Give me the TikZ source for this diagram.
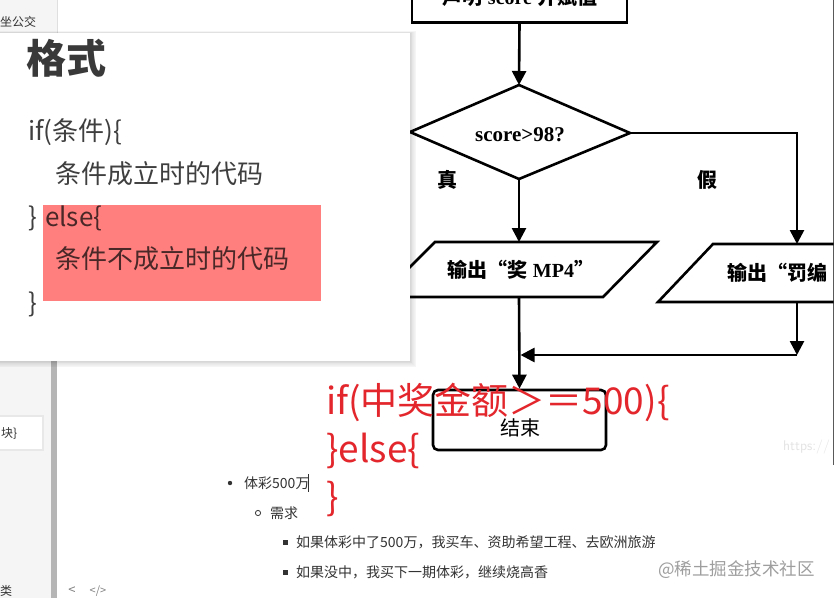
\documentclass[tikz,border=0pt]{standalone}
\usepackage{fontspec}
\setmainfont{Liberation Serif}
\newfontfamily\cjk{Noto Sans CJK SC}
\usetikzlibrary{arrows.meta}
\definecolor{sidebg}{HTML}{F5F5F5}
\definecolor{sidebarc}{HTML}{B5B5B5}
\definecolor{cardtxt}{HTML}{3F3F3F}
\definecolor{hl}{HTML}{FF7F7F}
\definecolor{hltxt}{HTML}{4A2828}
\definecolor{redtxt}{HTML}{E3262C}
\definecolor{doctxt}{HTML}{333333}
\definecolor{wm}{HTML}{9E9E9E}
\tikzset{
  fl/.style={line width=2.6pt, line join=miter},
  arr/.style={fl, -{Triangle[width=14pt,length=14pt]}},
  ftxt/.style={inner sep=0, font=\bfseries\fontsize{20}{24}\selectfont},
  cardline/.style={anchor=west, inner sep=0, text=cardtxt, font=\cjk\fontsize{26}{30}\selectfont},
  redline/.style={anchor=west, inner sep=0, text=redtxt, font=\cjk\fontsize{37}{40}\selectfont},
  docline/.style={anchor=west, inner sep=0, text=doctxt, font=\cjk\fontsize{14}{16}\selectfont}
}
\begin{document}
\begin{tikzpicture}[x=1pt,y=-1pt]
\useasboundingbox (0,0) rectangle (835,598);
\clip (0,0) rectangle (835,598);
\fill[white] (0,0) rectangle (835,598);
% sidebar
\fill[sidebg] (0,0) rectangle (57,33);
\draw[gray!25] (57,0) -- (57,33);
\fill[sidebg] (0,361) rectangle (51,598);
\fill[sidebarc] (51,361) rectangle (57,598);
\node[anchor=west, inner sep=0, text=doctxt, font=\cjk\fontsize{12}{12}\selectfont] (bus) at (0,22) {坐公交};
\fill[black, opacity=0.05] (-2,415) rectangle (44,451);
\fill[white] (0,417) rectangle (42,449);
\node[anchor=west, inner sep=0, text=doctxt, font=\cjk\fontsize{12}{12}\selectfont] (blk) at (1,434) {块\}};
\node[anchor=west, inner sep=0, text=doctxt, font=\cjk\fontsize{12}{12}\selectfont] (lei) at (0,591) {类};
\node[inner sep=0, text=gray, font=\cjk\fontsize{13}{13}\selectfont] (prev) at (72,591) {<};
\node[inner sep=0, text=gray, font=\cjk\fontsize{11}{11}\selectfont] (code) at (98,591) {</>};

% flowchart
\begin{scope}
\clip (0,-40) rectangle (833.5,598);
\node[draw, fl, minimum width=215pt, minimum height=62pt, inner sep=0, anchor=south] (start) at (519.5,23.5) {};
\node[ftxt] (starttxt) at (520,-3) {{\cjk 声明} score {\cjk 并赋值}};
\coordinate (dT) at (519,85);
\coordinate (dR) at (630,133);
\coordinate (dB) at (519,179);
\coordinate (dL) at (410,132);
\draw[fl] (dT) -- (dR) -- (dB) -- (dL) -- cycle;
\node[ftxt, font=\bfseries\fontsize{21}{24}\selectfont] (dtxt) at (520,135) {score>98?};
\draw[arr] (start.south) -- (dT);
\node[ftxt] (ttrue) at (447,180) {\cjk 真};
\node[ftxt] (tfalse) at (707,180) {\cjk 假};
% left output
\coordinate (pL1) at (435,242);
\coordinate (pL2) at (657,242);
\coordinate (pL3) at (603,297);
\coordinate (pL4) at (380,297);
\draw[fl] (pL1) -- (pL2) -- (pL3) -- (pL4) -- cycle;
\coordinate (pLtop) at (519,242);
\coordinate (pLbot) at (519,297);
\draw[arr] (dB) -- (pLtop);
\node[ftxt] (ltxt) at (521,270) {{\cjk 输出“奖} MP4{\cjk ”}};
% right output
\coordinate (rc) at (797,133);
\coordinate (pR1) at (713,244);
\coordinate (pR2) at (935,244);
\coordinate (pR3) at (880,302);
\coordinate (pR4) at (658,302);
\draw[fl] (pR1) -- (pR2) -- (pR3) -- (pR4) -- cycle;
\coordinate (pRtop) at (797,244);
\coordinate (pRbot) at (797,302);
\draw[arr] (dR) -- (rc) -- (pRtop);
\node[ftxt, anchor=west] (rtxt) at (727,273) {\cjk 输出“罚编};
% merge
\coordinate (jR) at (797,355);
\coordinate (jL) at (520.5,355);
\draw[arr] (pRbot) -- (jR);
\draw[arr] (jR) -- (jL);
\node[draw, fl, rounded corners=5pt, minimum width=173pt, minimum height=60pt, inner sep=0] (end) at (519.5,420) {};
\node[inner sep=0, font=\cjk\fontsize{20}{22}\selectfont] (endtxt) at (520,428) {结束};
\draw[arr] (pLbot) -- (end.north);
\draw[line width=1pt] (833,0) -- (833,465);
\node[anchor=west, inner sep=0, text=gray!22, font=\sffamily\fontsize{14}{14}\selectfont] (url) at (783,447) {https://};
\end{scope}

% popup card
\foreach \i in {1,...,8} {
  \fill[black, opacity=0.02] (-20,33-\i*0.25) rectangle (410+\i*0.8,361+\i*0.8);
}
\fill[white] (0,33) rectangle (410,361);
\fill[hl] (43,205) rectangle (321,301);
\node[anchor=west, inner sep=0, text=cardtxt!90!black, font=\cjk\bfseries\fontsize{40}{44}\selectfont] (title) at (26,58) {格式};
\node[cardline] (l1) at (28,132) {if(条件)\{};
\node[cardline] (l2) at (55,174) {条件成立时的代码};
\node[cardline] (l3a) at (28,218) {\}};
\node[cardline, text=hltxt] (l3b) at (45,218) {else\{};
\node[cardline, text=hltxt] (l4) at (55,259) {条件不成立时的代码};
\node[cardline] (l5) at (28,304) {\}};

% red annotation (white halo strip behind, as in the reference)
\node[redline] (r1) at (326,402) {if(中奖金额＞＝500)\{};
\node[redline] (r2) at (326,451) {\}else\{};
\node[redline] (r3) at (326,499) {\}};

% document list
\fill[doctxt] (230,483) circle (2.2);
\node[docline] (d1) at (244,483) {体彩500万};
\draw[doctxt, line width=1pt] (308.5,474) -- (308.5,492);
\draw[doctxt, line width=0.8pt] (258,513) circle (2.6);
\node[docline] (d2) at (270,513) {需求};
\fill[doctxt] (282.5,539.5) rectangle (287.5,544.5);
\node[docline] (d3) at (296,542) {如果体彩中了500万，我买车、资助希望工程、去欧洲旅游};
\fill[doctxt] (282.5,569.5) rectangle (287.5,574.5);
\node[docline] (d4) at (296,572) {如果没中，我买下一期体彩，继续烧高香};
\node[anchor=west, inner sep=0, text=wm, font=\cjk\fontsize{17.5}{18}\selectfont] (wmk) at (658,570) {@稀土掘金技术社区};
\end{tikzpicture}
\end{document}
